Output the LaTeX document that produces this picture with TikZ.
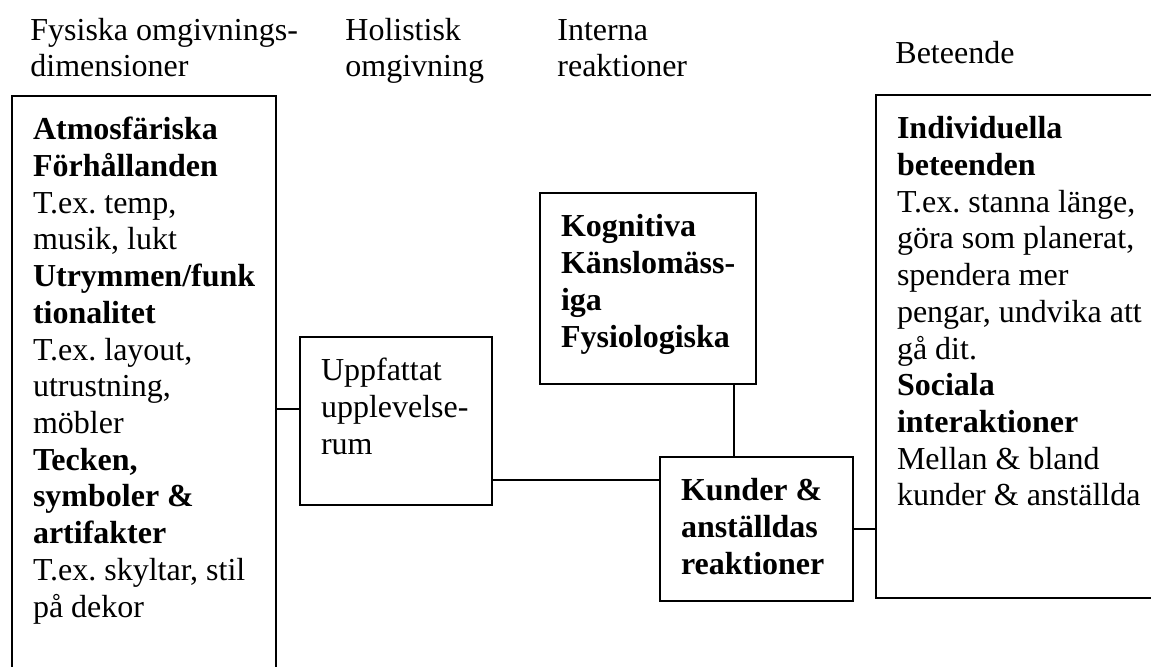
\documentclass[tikz,border=0pt]{standalone}
\usepackage{fontspec}
\setmainfont{Liberation Serif}
\frenchspacing

% text inside a box, set from the top left corner
\newcommand{\rutatext}[3]{\parbox[t][#2][t]{#1}{\raggedright\strut #3}}
\newcommand{\rubriktext}[1]{\parbox[t]{150pt}{\raggedright #1}}

\tikzset{
  every node/.style={font=\fontsize{16pt}{18.35pt}\selectfont},
  ruta/.style={draw, line width=1pt, anchor=north west, inner xsep=10.5pt, inner ysep=9.1pt},
  rubrik/.style={anchor=base west, inner sep=0pt},
  linje/.style={line width=0.8pt}
}

\begin{document}
\begin{tikzpicture}[x=0.5pt,y=-0.5pt]

  \clip (0,0) rectangle (1151,666);

  %Rubriker
  \node (rubrikFysiska) at (30,40) [rubrik]{\rubriktext{Fysiska omgivnings-\\dimensioner}};
  \node (rubrikHolistisk) at (345,40) [rubrik]{\rubriktext{Holistisk\\omgivning}};
  \node (rubrikInterna) at (557,40) [rubrik]{\rubriktext{Interna\\reaktioner}};
  \node (rubrikBeteende) at (895,63) [rubrik]{\rubriktext{Beteende}};

  %Fysiska omgivningsdimensioner
  \node (fysiska) at (11,95) [ruta]{\rutatext{111pt}{294.3pt}{%
    \textbf{Atmosfäriska}\\
    \textbf{Förhållanden}\\
    T.ex. temp,\\
    musik, lukt\\
    \textbf{\mbox{Utrymmen/funk}}\\
    \textbf{tionalitet}\\
    T.ex. layout,\\
    utrustning,\\
    möbler\\
    \textbf{Tecken,}\\
    \textbf{symboler \&}\\
    \textbf{artifakter}\\
    T.ex. skyltar, stil\\
    på dekor}};

  %Holistisk omgivning
  \node (uppfattat) at (299,336) [ruta]{\rutatext{75pt}{65.8pt}{%
    Uppfattat\\
    \mbox{upplevelse-}\\
    rum}};

  %Interna reaktioner
  \node (kognitiva) at (539,192) [ruta]{\rutatext{87pt}{77.3pt}{\bfseries
    Kognitiva\\
    \mbox{Känslomäss-}\\
    iga\\
    Fysiologiska}};
  \node (kunder) at (659,456) [ruta]{\rutatext{75.5pt}{53.8pt}{\bfseries
    Kunder \&\\
    anställdas\\
    reaktioner}};

  %Beteende
  \node (beteende) at (875,94) [ruta]{\rutatext{131.5pt}{233.3pt}{%
    \textbf{Individuella}\\
    \textbf{beteenden}\\
    T.ex. stanna länge,\\
    göra som planerat,\\
    spendera mer\\
    pengar, undvika att\\
    gå dit.\\
    \textbf{Sociala}\\
    \textbf{interaktioner}\\
    Mellan \& bland\\
    kunder \& anställda}};

  %Kopplingar
  \draw[linje] ([yshift=6pt]uppfattat.west) -- ([yshift=6pt]uppfattat.west -| fysiska.east);
  \draw[linje] ([yshift=-29.5pt]uppfattat.east) -- ([yshift=-29.5pt]uppfattat.east -| kunder.west);
  \draw[linje] ([xshift=-11.5pt]kognitiva.south east) -- ([xshift=-11.5pt]kognitiva.south east |- kunder.north);
  \draw[linje] (kunder.east) -- (kunder.east -| beteende.west);

\end{tikzpicture}
\end{document}
